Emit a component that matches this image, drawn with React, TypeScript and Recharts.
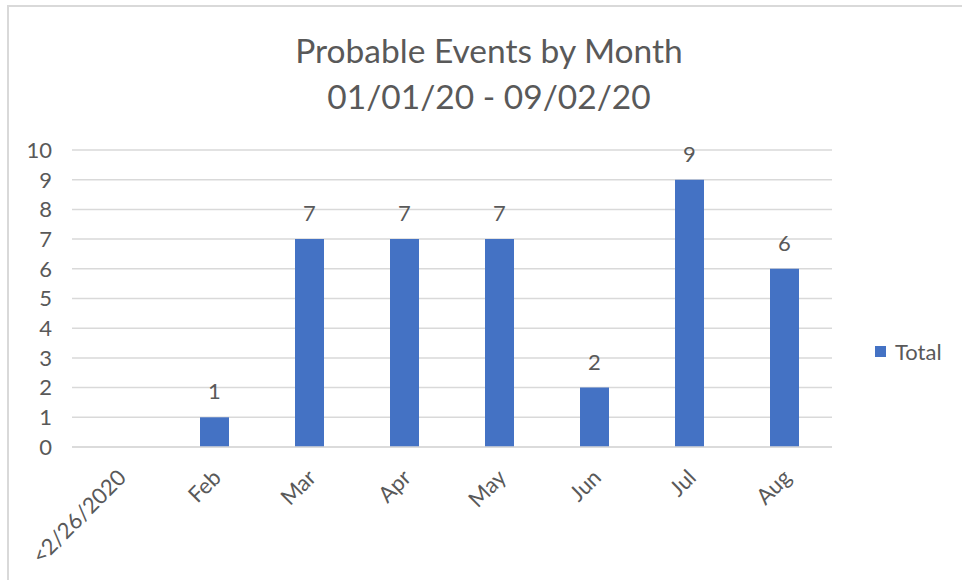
import { Bar, BarChart, CartesianGrid, LabelList, XAxis, YAxis } from "recharts";

const FONT = "Lato, 'Open Sans', sans-serif";
const TEXT = "#595959";
const BLUE = "#4472C4";
const GRID = "#d9d9d9";

const months = ["<2/26/2020", "Feb", "Mar", "Apr", "May", "Jun", "Jul", "Aug"];
const totals: (number | null)[] = [null, 1, 7, 7, 7, 2, 9, 6];
const yTicks = [0, 1, 2, 3, 4, 5, 6, 7, 8, 9, 10];

const data = months.map((m, i) => ({ month: m, total: totals[i] }));

function MonthTick(props: any) {
  const { x, y, payload } = props;
  return (
    <g transform={`translate(${x + 8},${y + 24})`}>
      <text
        textAnchor="end"
        transform="rotate(-45)"
        fill={TEXT}
        fontSize={22}
        fontFamily={FONT}
      >
        {payload.value}
      </text>
    </g>
  );
}

export default function App() {
  return (
    <div style={{ position: "fixed", left: 0, top: 0, width: 962, height: 580, background: "#fff" }}>
      <div
        style={{
          position: "absolute",
          left: 7,
          top: 5,
          right: 0,
          bottom: 0,
          borderLeft: `2px solid ${GRID}`,
          borderTop: `2px solid ${GRID}`,
        }}
      />
      <div
        style={{
          position: "absolute",
          left: 0,
          width: 978,
          top: 27,
          textAlign: "center",
          fontFamily: FONT,
          fontSize: 33.5,
          lineHeight: "46px",
          color: TEXT,
        }}
      >
        <div>Probable Events by Month</div>
        <div>01/01/20 - 09/02/20</div>
      </div>
      <div
        style={{
          position: "absolute",
          left: 875,
          top: 338,
          display: "flex",
          alignItems: "center",
          fontFamily: FONT,
          fontSize: 22,
          color: TEXT,
        }}
      >
        <span style={{ width: 11, height: 11, background: BLUE, marginRight: 9 }} />
        <span>Total</span>
      </div>
      <BarChart
        width={962}
        height={580}
        data={data}
        margin={{ top: 150, right: 130, bottom: 53, left: 22 }}
        barCategoryGap={0}
      >
        <CartesianGrid vertical={false} stroke={GRID} strokeWidth={1.5} />
        <XAxis
          dataKey="month"
          axisLine={{ stroke: GRID, strokeWidth: 1.5 }}
          tickLine={false}
          interval={0}
          height={80}
          tick={<MonthTick />}
        />
        <YAxis
          domain={[0, 10]}
          ticks={yTicks}
          interval={0}
          width={50}
          axisLine={false}
          tickLine={false}
          tickMargin={14}
          tick={{ fill: TEXT, fontSize: 22, fontFamily: FONT }}
        />
        <Bar dataKey="total" fill={BLUE} barSize={29} isAnimationActive={false}>
          <LabelList
            dataKey="total"
            position="top"
            offset={18}
            fill={TEXT}
            fontSize={22}
            fontFamily={FONT}
          />
        </Bar>
      </BarChart>
    </div>
  );
}
